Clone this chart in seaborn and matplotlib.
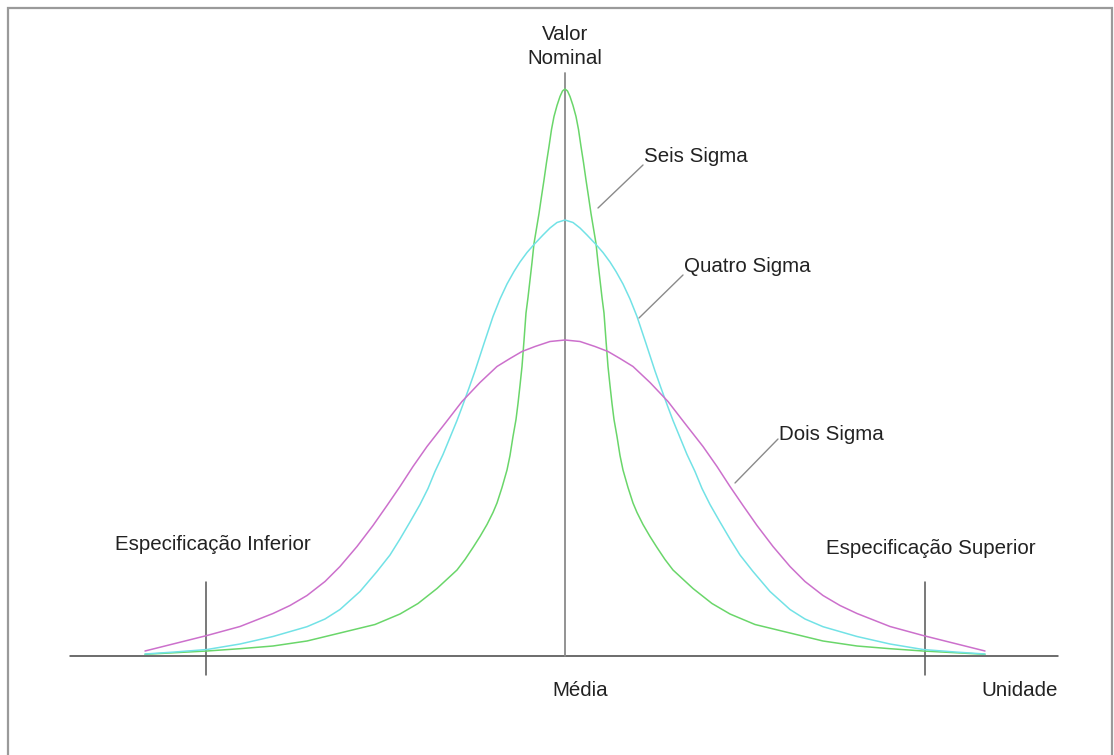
import numpy as np
import pandas as pd
import matplotlib
matplotlib.use("Agg")
import matplotlib.pyplot as plt
import seaborn as sns
from matplotlib.patches import Rectangle

# Curves (left half, offset from the mean -> height),
# the curves are symmetric about the mean
seis_dx = [-420, -390, -358, -325, -292, -258, -225, -190, -165, -147, -128,
           -108, -100, -92, -85, -78, -72, -68, -63, -58, -55, -52, -49, -47,
           -45, -43, -41, -39, -37, -35, -33, -31, -28, -26, -23.5, -21,
           -18.5, -16, -13.5, -11, -8, -5, -2.5, 0]
seis_h = [1.2, 2.8, 4.5, 6.8, 9.5, 14.5, 22.5, 31, 41.5, 52, 67,
          85.5, 96, 108, 119, 131, 143, 152.5, 168, 185.5, 200, 219, 236, 252,
          270, 289, 315, 342.5, 358, 375.5, 393, 412, 430, 442, 459, 475.5,
          493, 509, 526, 539, 550, 559, 564.5, 566.5]

quatro_dx = [-420, -390, -358, -325, -292, -258, -240, -225, -205, -188, -175,
             -165, -155, -145, -137, -130, -122, -115, -108, -102, -96, -90,
             -81, -72, -65, -58, -51, -45, -38, -31, -22, -15, -8, 0]
quatro_h = [1.5, 3.5, 6, 11.5, 19, 28.8, 36.5, 46, 64, 84, 100.5,
            116.5, 133.5, 151, 167, 184, 201, 218, 235, 251, 267.5, 284.5,
            312, 339, 356.5, 371.5, 384, 393.5, 403, 411, 420.5, 427.5, 433,
            435.5]

dois_dx = [-420, -390, -358, -325, -292, -275, -258, -240, -225, -208, -192,
           -178, -165, -152, -138, -120, -103, -85, -68, -55, -43, -30, -15, 0]
dois_h = [4.5, 12, 20, 29, 42, 50, 60, 74, 89, 109, 130,
          150, 169, 189, 209, 232, 254, 273, 289, 297, 304, 309, 314, 315.5]

curve_names = ["Seis Sigma", "Quatro Sigma", "Dois Sigma"]
curve_colors = ["#6ad66a", "#72e2e6", "#cc70cc"]
spec_limits = [-359.5, 359.5]


def mirror(dx, h):
    x = list(dx) + [-v for v in reversed(dx[:-1])]
    y = list(h) + list(reversed(h[:-1]))
    return x, y


frames = []
for name, dx, h in [("Dois Sigma", dois_dx, dois_h),
                    ("Quatro Sigma", quatro_dx, quatro_h),
                    ("Seis Sigma", seis_dx, seis_h)]:
    x, y = mirror(dx, h)
    frames.append(pd.DataFrame({"x": x, "h": y, "curva": name}))
df = pd.concat(frames, ignore_index=True)

sns.set_style("white")
plt.rcParams["font.family"] = ["Liberation Sans", "DejaVu Sans"]

fig = plt.figure(figsize=(11.14, 7.55), dpi=100)
ax = fig.add_axes([0, 0, 1, 1])

sns.lineplot(data=df, x="x", y="h", hue="curva", hue_order=curve_names,
             palette=curve_colors, estimator=None, sort=False,
             linewidth=1.1, legend=False, ax=ax)

# axis, mean line and spec limits
ax.plot([-495, 493], [-0.5, -0.5], color="#444444", lw=1.1, zorder=1)
ax.plot([0, 0], [0, 582.5], color="#8a8a8a", lw=1.3, zorder=1)
for s in spec_limits:
    ax.plot([s, s], [-19.5, 74], color="#555555", lw=1.1, zorder=1)

# leader lines
ax.plot([33, 78], [447.5, 490.5], color="#8a8a8a", lw=1)
ax.plot([74, 118], [337.5, 380.5], color="#8a8a8a", lw=1)
ax.plot([170, 213], [172.5, 216.5], color="#8a8a8a", lw=1)

fs = 14.8
tc = "#222222"
ax.text(79, 498.5, "Seis Sigma", fontsize=fs, color=tc, va="center")
ax.text(119, 388.5, "Quatro Sigma", fontsize=fs, color=tc, va="center")
ax.text(214, 221.5, "Dois Sigma", fontsize=fs, color=tc, va="center")
ax.text(0, 609, "Valor\nNominal", fontsize=fs, color=tc, ha="center",
        va="center", linespacing=1.3)
ax.text(-352, 110.5, "Especificação Inferior", fontsize=fs, color=tc,
        ha="center", va="center")
ax.text(366, 107.5, "Especificação Superior", fontsize=fs, color=tc,
        ha="center", va="center")
ax.text(15, -34.5, "Média", fontsize=fs, color=tc, ha="center", va="center")
ax.text(454.5, -34.5, "Unidade", fontsize=fs, color=tc, ha="center",
        va="center")

# frame around the drawing
ax.add_patch(Rectangle((-557, -130), 1104, 777.5, fill=False,
                       edgecolor="#9a9a9a", lw=1.6, clip_on=False))

ax.set_xlim(-565, 549)
ax.set_ylim(-99.5, 655.5)
ax.axis("off")

fig.savefig("out.png", dpi=100, facecolor="white")
